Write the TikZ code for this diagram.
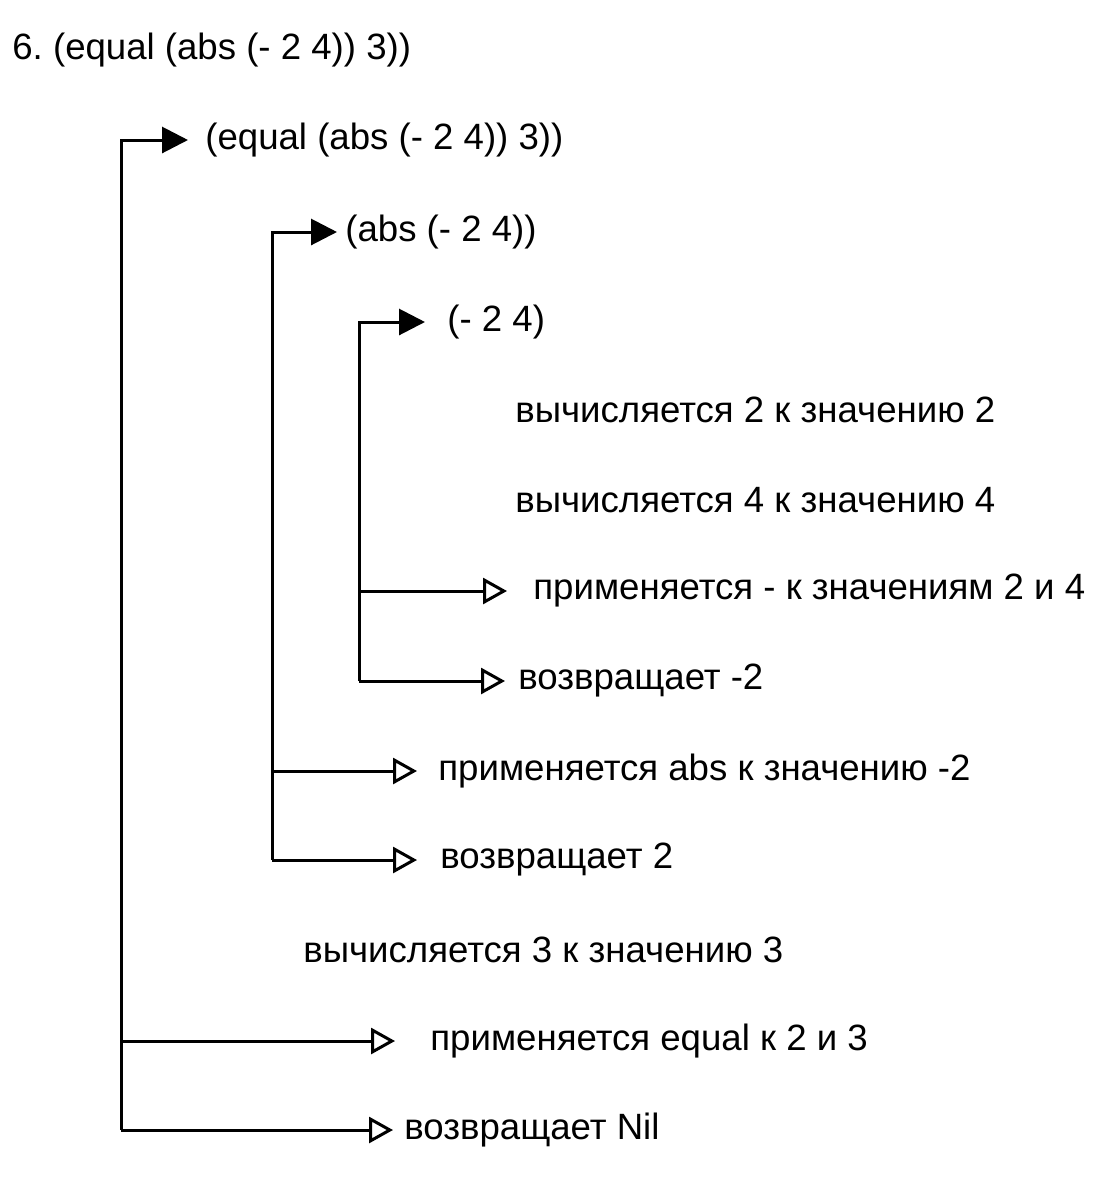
\documentclass[tikz,border=0pt]{standalone}
\usepackage{fontspec}
\setmainfont{Liberation Sans}
\usepackage{tikz}
\usetikzlibrary{arrows.meta}
\frenchspacing

\begin{document}
\begin{tikzpicture}[
    x=0.5pt, y=-0.5pt,
    lbl/.style={anchor=west, inner sep=0pt, font=\fontsize{18.3pt}{22pt}\selectfont},
    arrfill/.style={-{Triangle[length=13pt,width=13pt]}, line width=1.5pt},
    arropen/.style={-{Triangle[open,length=12pt,width=13pt]}, line width=1.5pt}
]
\useasboundingbox (0,0) rectangle (1118,1190);

\node[lbl] (title) at (12,50)   {6. (equal (abs (- 2 4)) 3))};

\node[lbl] (expr1) at (205,140) {(equal (abs (- 2 4)) 3))};
\node[lbl] (expr2) at (345,232) {(abs (- 2 4))};
\node[lbl] (expr3) at (447,322) {(- 2 4)};
\node[lbl] (ev2)   at (515,410) {вычисляется 2 к значению 2};
\node[lbl] (ev4)   at (515,500) {вычисляется 4 к значению 4};
\node[lbl] (app3)  at (533,591) {применяется - к значениям 2 и 4};
\node[lbl] (ret3)  at (518,681) {возвращает -2};
\node[lbl] (app2)  at (438,771) {применяется abs к значению -2};
\node[lbl] (ret2)  at (440,860) {возвращает 2};
\node[lbl] (ev3)   at (303,950) {вычисляется 3 к значению 3};
\node[lbl] (app1)  at (430,1041) {применяется equal к 2 и 3};
\node[lbl] (ret1)  at (404,1130) {возвращает Nil};

% bottom ends of the three bars
\coordinate (bar1) at (121,1130);
\coordinate (bar2) at (272,860);
\coordinate (bar3) at (359,681);

\draw[arrfill, shorten >=8.5pt] (bar1) |- (expr1);
\draw[arrfill, shorten >=4pt]   (bar2) |- (expr2);
\draw[arrfill, shorten >=11pt]  (bar3) |- (expr3);

\draw[arropen, shorten >=13pt]   (bar3 |- app3) -- (app3);
\draw[arropen, shorten >=6.5pt]  (bar3) -- (ret3);
\draw[arropen, shorten >=10.5pt] (bar2 |- app2) -- (app2);
\draw[arropen, shorten >=11.5pt] (bar2) -- (ret2);
\draw[arropen, shorten >=17.5pt] (bar1 |- app1) -- (app1);
\draw[arropen, shorten >=5.5pt]  (bar1) -- (ret1);
\end{tikzpicture}
\end{document}
